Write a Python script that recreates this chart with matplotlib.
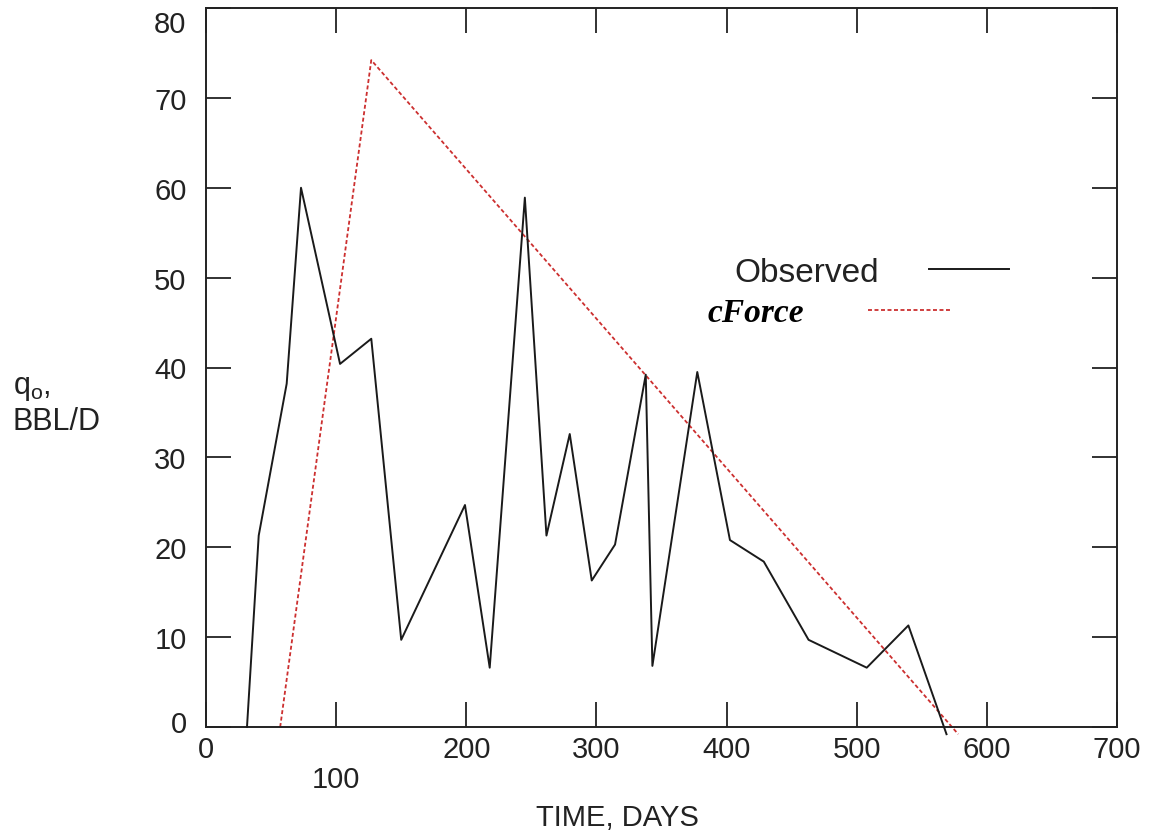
import matplotlib
matplotlib.use("Agg")
import matplotlib.pyplot as plt
import matplotlib.transforms as mtransforms

plt.rcParams['font.family'] = ['Liberation Sans', 'DejaVu Sans']
plt.rcParams['mathtext.fontset'] = 'custom'
plt.rcParams['mathtext.rm'] = 'Liberation Sans'
plt.rcParams['mathtext.it'] = 'Liberation Sans'

# observed rate
obs_days = [31.5, 40.5, 62, 73, 103, 127, 150, 199, 218, 245, 261.6, 279.5, 296.4,
            314.3, 337.9, 343, 377.5, 402.6, 428.6, 463, 507.7, 539.7, 569]
obs_rate = [0, 21.3, 38.2, 60, 40.4, 43.2, 9.7, 24.7, 6.6, 58.9, 21.3, 32.6, 16.3,
            20.3, 39.2, 6.8, 39.5, 20.8, 18.4, 9.7, 6.6, 11.3, -0.8]

# cForce model
cf_days = [57, 127, 578]
cf_rate = [0, 74.2, -0.8]

x_ticks = [0, 100, 200, 300, 400, 500, 600, 700]
y_ticks = [0, 10, 20, 30, 40, 50, 60, 70, 80]

ink = '#222222'

fig = plt.figure(figsize=(11.51, 8.37), dpi=100)
ax = fig.add_axes([206/1151, 1 - 728/837, (1117-206)/1151, (728-9)/837])

l1, = ax.plot(obs_days, obs_rate, color='#1a1a1a', lw=1.4, clip_on=False, zorder=3)
l2, = ax.plot(cf_days, cf_rate, color='#cc2f2f', lw=1.3, ls=(0, (2.2, 1.4)),
              clip_on=False, zorder=2)

ax.set_xlim(0, 700)
ax.set_ylim(0, 80)
ax.set_xticks(x_ticks)
ax.set_yticks(y_ticks)
ax.tick_params(axis='both', direction='in', length=18, width=1.3, color=ink,
               labelsize=21, labelcolor=ink, top=True, right=True)
ax.tick_params(axis='y', pad=14)
ax.tick_params(axis='x', pad=6)
for s in ax.spines.values():
    s.set_linewidth(1.4)
    s.set_color(ink)

# the picture has the "100" label dropped a line, "80" a bit low and "0" a bit high
fig.canvas.draw()
xt = ax.xaxis.get_major_ticks()
yt = ax.yaxis.get_major_ticks()
def nudge(label, dy_px):
    label.set_transform(label.get_transform() +
                        mtransforms.ScaledTranslation(0, dy_px/100, fig.dpi_scale_trans))
nudge(xt[1].label1, -30)
nudge(yt[-1].label1, -13)
nudge(yt[0].label1, 6)

ax.set_xlabel('TIME, DAYS', fontsize=21, color=ink)
ax.xaxis.set_label_coords(0.452, -0.125)
ax.xaxis.label.set_va('center')

ax.set_ylabel('q$_\\mathrm{o}$,\nBBL/D', fontsize=22, color=ink, rotation=0,
              ha='left', va='center', multialignment='left')
ax.yaxis.set_label_coords(-0.212, 0.449)

leg1 = ax.legend([l1], ['Observed'], loc='center left', markerfirst=False,
                 bbox_to_anchor=(734/1151, 1 - 273/837), bbox_transform=fig.transFigure,
                 frameon=False, fontsize=24, handlelength=2.4, handletextpad=1.5,
                 borderpad=0, borderaxespad=0)
for t in leg1.get_texts():
    t.set_color(ink)
ax.add_artist(leg1)

leg2 = ax.legend([l2], ['cForce'], loc='center left', markerfirst=False,
                 bbox_to_anchor=(708/1151, 1 - 314/837), bbox_transform=fig.transFigure,
                 frameon=False, handlelength=2.46, handletextpad=1.9,
                 borderpad=0, borderaxespad=0,
                 prop={'family': 'Liberation Serif', 'style': 'italic',
                       'weight': 'bold', 'size': 24})

fig.savefig('out.png', dpi=100)
